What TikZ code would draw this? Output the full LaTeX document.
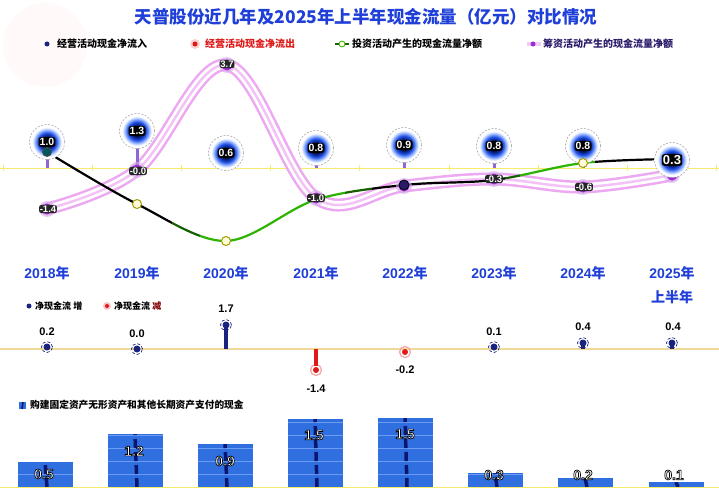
\documentclass[tikz,border=0pt]{standalone}
\usepackage{fontspec}
\setmainfont{Liberation Sans}
\newfontfamily\cjk{Noto Sans CJK SC}
\definecolor{tblue}{HTML}{1F3FD8}
\definecolor{ynavy}{HTML}{1A237E}
\definecolor{bnavy}{HTML}{000A45}
\definecolor{bblue}{HTML}{1F4FE8}
\definecolor{blight}{HTML}{A8C4FF}
\definecolor{pband}{HTML}{EDA8F2}
\definecolor{pmark}{HTML}{9B2FD0}
\definecolor{ggreen}{HTML}{2DB400}
\definecolor{gmix}{HTML}{166000}
\definecolor{zyel}{HTML}{F6EE6A}
\definecolor{ztan}{HTML}{F0D898}
\definecolor{barblue}{HTML}{2F6FE0}
\definecolor{barline}{HTML}{6C9CF2}
\definecolor{stripe}{HTML}{0A1670}
\definecolor{rred}{HTML}{E01818}
\definecolor{fnavy}{HTML}{2A1A6A}
\pgfdeclareradialshading{bub}{\pgfpoint{0bp}{0bp}}{color(0bp)=(bnavy); color(7bp)=(bnavy); color(13bp)=(bblue); color(18bp)=(blight); color(21bp)=(white); color(50bp)=(white)}
\newcommand\olt[2]{{\special{pdf:literal direct 2 Tr #2 w 0 G}#1\special{pdf:literal direct 0 Tr}}}
\tikzset{
  bubble/.style={circle, minimum size=35pt, inner sep=0pt, shading=bub, draw=gray!80, line width=0.5pt, dash pattern=on 2pt off 1.5pt},
  blab/.style={fill=black, rounded corners=2.5pt, text=white, font=\bfseries\fontsize{10.5}{11}\selectfont, inner sep=1.2pt},
  plab/.style={fill=black!85, rounded corners=2.5pt, text=white, font=\bfseries\fontsize{9.5}{10}\selectfont, inner sep=0.8pt},
  pmk/.style={circle, fill=pmark, minimum size=11pt, inner sep=0pt},
  phalo/.style={circle, fill=pmark!40, opacity=0.6, minimum size=16pt, inner sep=0pt},
  gmk/.style={circle, fill=yellow!15!white, draw=olive!80!yellow, line width=1pt, minimum size=9pt, inner sep=0pt},
  stemc/.style={line width=3pt, draw=blue!45!violet!60!white},
  leg/.style={anchor=west, font=\cjk\bfseries\fontsize{10}{11}\selectfont, inner sep=0pt},
  yr/.style={font=\bfseries\fontsize{14}{15}\selectfont, text=tblue, inner sep=0pt},
  yrc/.style={font=\cjk\bfseries\fontsize{14}{15}\selectfont, text=tblue, inner sep=0pt},
  num/.style={font=\bfseries\fontsize{11}{12}\selectfont, inner sep=0pt},
  ndot/.style={circle, fill=ynavy, minimum size=7pt, inner sep=0pt},
  nring/.style={circle, draw=ynavy, densely dashed, line width=0.7pt, minimum size=11pt, inner sep=0pt},
  rdot/.style={circle, fill=rred, minimum size=6pt, inner sep=0pt},
  rring/.style={circle, draw=rred!40, line width=1.2pt, minimum size=11pt, inner sep=0pt},
  bar/.style={fill=barblue, draw=none},
  barlab/.style={font=\bfseries\fontsize{14}{15}\selectfont, text=white, inner sep=0pt},
}
\begin{document}
\begin{tikzpicture}[x=1pt,y=-1pt]
\useasboundingbox (0,0) rectangle (719,492);
\fill[white] (0,0) rectangle (719,492);
% watermark
\fill[red!2.5] (45,45) circle (42);
% title
\node[font=\cjk\bfseries\fontsize{17.5}{18}\selectfont, text=tblue] (title) at (366,17) {天普股份近几年及2025年上半年现金流量（亿元）对比情况};
% top legend
\node[circle, fill=ynavy, minimum size=5pt, inner sep=0pt] (lg1d) at (47,44) {};
\node[leg] (lg1) at (57,44) {经营活动现金净流入};
\node[circle, fill=rred!20, minimum size=10pt, inner sep=0pt] (lg2h) at (195,44) {};
\node[circle, fill=rred, minimum size=5pt, inner sep=0pt] (lg2d) at (195,44) {};
\node[leg, text=rred] (lg2) at (205,44) {经营活动现金净流出};
\coordinate (lg3a) at (335,44); \coordinate (lg3b) at (349,44);
\draw[line width=1.5pt, gmix] (lg3a) -- (lg3b);
\node[circle, fill=yellow!15!white, draw=ggreen, line width=0.8pt, minimum size=6pt, inner sep=0pt] (lg3d) at (342,44) {};
\node[leg] (lg3) at (352,44) {投资活动产生的现金流量净额};
\coordinate (lg4a) at (527,44); \coordinate (lg4b) at (541,44);
\draw[line width=4pt, pband!60] (lg4a) -- (lg4b);
\node[circle, fill=pmark, minimum size=5pt, inner sep=0pt] (lg4d) at (533,44) {};
\node[leg, text=fnavy] (lg4) at (543,44) {筹资活动产生的现金流量净额};
% top zero line
\coordinate (z0) at (0,168); \coordinate (z1) at (719,168);
\draw[zyel, line width=1pt] (z0) -- (z1);
\foreach \t in {3,92,181,270,359,449,538,627,716} \draw[zyel, line width=0.8pt] (\t,165) -- (\t,171);
% financing band
\def\finpath{plot[smooth, tension=0.6] coordinates {(47,209) (137,170) (227,65) (316,198) (404,186) (494,179) (583,187) (672,175)}}
\draw[pband, line width=13pt, line cap=round] \finpath;
\draw[white, line width=8pt, line cap=round] \finpath;
\draw[pband!70, line width=2.5pt, line cap=round] \finpath;
% stems
\foreach \x/\y in {47/150,137/140,316/156,404/152,494/154,583/154} \draw[stemc] (\x,\y) -- (\x,168);
% investment line
\def\invpath{plot[smooth, tension=0.55] coordinates {(47,152) (137,204) (226,241) (315,200) (404,185) (494,180) (583,163) (672,159)}}
\foreach \xa/\xb/\c in {40/172/black, 172/200/gmix, 200/345/ggreen, 345/372/gmix, 372/505/black, 505/520/gmix, 520/595/ggreen, 595/690/black}{
  \begin{scope}
  \clip (\xa,100) rectangle (\xb,260);
  \draw[\c, line width=2.2pt] \invpath;
  \end{scope}
}
% bubbles (operating inflow)
\node[bubble] (b1) at (47,142) {};
\node[bubble] (b2) at (137,131) {};
\node[bubble] (b3) at (226,153) {};
\node[bubble] (b4) at (316,148) {};
\node[bubble] (b5) at (404,145) {};
\node[bubble] (b6) at (494,146) {};
\node[bubble] (b7) at (583,146) {};
% investment markers
\node[circle, fill=teal!70!black, draw=black!70, line width=0.8pt, minimum size=9pt, inner sep=0pt] (g1) at (47,152) {};
\node[gmk] (g2) at (137,204) {};
\node[gmk] (g3) at (226,241) {};
\node[gmk] (g7) at (583,163) {};
% financing markers
\foreach \n/\x/\y in {1/47/209,2/137/170,3/227/65,4/316/198,5/404/186,6/494/179,7/583/187,8/672/175}{
  \node[phalo] (ph\n) at (\x,\y) {};
  \node[pmk] (p\n) at (\x,\y) {};
}
\node[circle, fill=fnavy, draw=black, line width=0.8pt, minimum size=10pt, inner sep=0pt] (g5) at (404,185) {};
% 2025 bubble on top
\node[bubble] (b8) at (672,160) {};
% bubble labels
\node[blab] (bl1) at (b1) {1.0};
\node[blab] (bl2) at (b2) {1.3};
\node[blab] (bl3) at (b3) {0.6};
\node[blab] (bl4) at (b4) {0.8};
\node[blab] (bl5) at (b5) {0.9};
\node[blab] (bl6) at (b6) {0.8};
\node[blab] (bl7) at (b7) {0.8};
\node[blab, font=\bfseries\fontsize{13}{14}\selectfont] (bl8) at (b8) {0.3};
% financing labels
\node[plab] (pl1) at (48,209) {-1.4};
\node[plab] (pl2) at (138,171) {-0.0};
\node[plab] (pl3) at (227,64) {3.7};
\node[plab] (pl4) at (316,198) {-1.0};
\node[plab] (pl6) at (494,179) {-0.3};
\node[plab] (pl7) at (584,187) {-0.6};
% years
\node[yr] (y1) at (47,273) {2018{\cjk 年}};
\node[yr] (y2) at (137,273) {2019{\cjk 年}};
\node[yr] (y3) at (226,273) {2020{\cjk 年}};
\node[yr] (y4) at (316,273) {2021{\cjk 年}};
\node[yr] (y5) at (405,273) {2022{\cjk 年}};
\node[yr] (y6) at (494,273) {2023{\cjk 年}};
\node[yr] (y7) at (583,273) {2024{\cjk 年}};
\node[yr] (y8) at (672,273) {2025{\cjk 年}};
\node[yrc] (y8b) at (672,297) {上半年};
% middle legend
\node[circle, fill=ynavy, minimum size=5pt, inner sep=0pt] (ml1d) at (29,306) {};
\node[leg, font=\cjk\bfseries\fontsize{9}{10}\selectfont] (ml1) at (35,306) {净现金流 增};
\node[circle, fill=rred!25, minimum size=8pt, inner sep=0pt] (ml2h) at (107,306) {};
\node[circle, fill=rred, minimum size=4pt, inner sep=0pt] (ml2d) at (107,306) {};
\node[leg, font=\cjk\bfseries\fontsize{9}{10}\selectfont] (ml2) at (114,306) {净现金流 {\color{red!50!black}减}};
% middle zero line
\coordinate (m0) at (0,349); \coordinate (m1) at (719,349);
\draw[ztan, line width=1.2pt] (m0) -- (m1);
% lollipops
\foreach \n/\x/\y in {1/47/347,2/137/349,3/226/325,6/494/347,7/583/343,8/672/343}{
  \coordinate (mb\n) at (\x,349);
  \node[ndot] (md\n) at (\x,\y) {};
  \draw[ynavy, line width=4pt] (mb\n) -- (md\n.center);
  \node[nring] (mr\n) at (\x,\y) {};
}
\coordinate (mb4) at (316,349);
\node[rring] (mr4) at (316,370) {};
\draw[rred, line width=3.5pt] (mb4) -- (316,366);
\node[rdot] (md4) at (316,370) {};
\node[rring] (mr5) at (405,352) {};
\node[rdot] (md5) at (405,352) {};
\node[num] (mn1) at (47,332) {0.2};
\node[num] (mn2) at (137,334) {0.0};
\node[num] (mn3) at (226,309) {1.7};
\node[num] (mn4) at (316,389) {-1.4};
\node[num] (mn5) at (405,370) {-0.2};
\node[num] (mn6) at (494,332) {0.1};
\node[num] (mn7) at (583,327) {0.4};
\node[num] (mn8) at (673,327) {0.4};
% bottom legend
\fill[barblue] (19,402) rectangle (26,409);
\draw[stripe, line width=1.5pt] (23,402) -- (22,409);
\node[leg, font=\cjk\bfseries\fontsize{9.7}{10}\selectfont] (bleg) at (30,405) {购建固定资产无形资产和其他长期资产支付的现金};
% bars
\foreach \n/\c/\t in {1/45/462,2/135/434,3/225/444,4/315/419,5/405/418,6/495/473,7/585/478,8/676/482}{
  \fill[bar] (\c-27.5,\t) rectangle (\c+27.5,487);
  \foreach \h in {474,461,448,435,422}{
    \ifnum\h>\t \draw[barline, line width=0.5pt] (\c-27.5,\h) -- (\c+27.5,\h); \fi
  }
  \begin{scope}
  \clip (\c-27.5,\t) rectangle (\c+27.5,487);
  \draw[stripe, line width=3.5pt, dash pattern=on 9pt off 4pt] (\c+2,487) -- (\c,\t);
  \end{scope}
}
\node[barlab] (bv1) at (44,474) {\olt{0.5}{0.7}};
\node[barlab] (bv2) at (134,451) {\olt{1.2}{0.7}};
\node[barlab] (bv3) at (225,461) {\olt{0.9}{0.7}};
\node[barlab] (bv4) at (314,435) {\olt{1.5}{0.7}};
\node[barlab] (bv5) at (405,434) {\olt{1.5}{0.7}};
\node[barlab] (bv6) at (494,475) {\olt{0.3}{0.7}};
\node[barlab] (bv7) at (583,475) {\olt{0.2}{0.7}};
\node[barlab] (bv8) at (674,475) {\olt{0.1}{0.7}};
% bottom baseline
\coordinate (bb0) at (0,487); \coordinate (bb1) at (719,487);
\draw[zyel, line width=1pt] (bb0) -- (bb1);
\end{tikzpicture}
\end{document}
